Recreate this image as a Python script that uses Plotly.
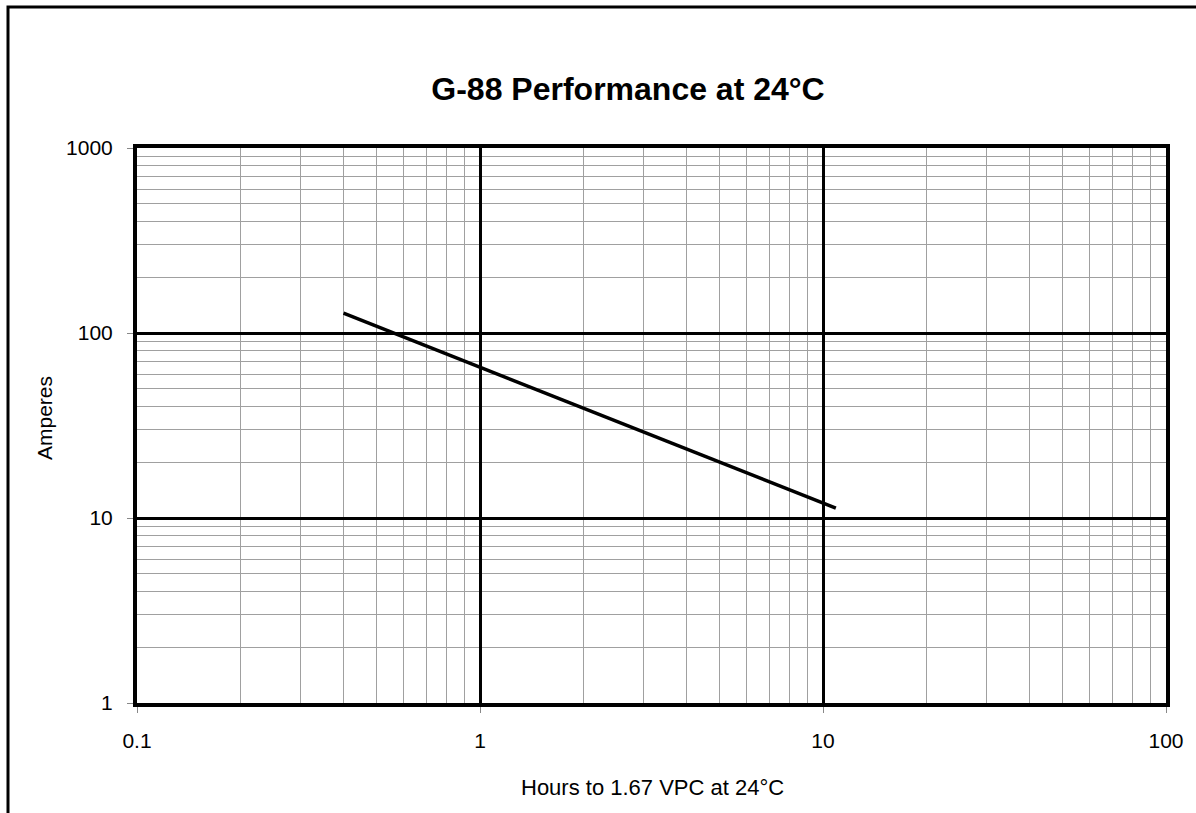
import plotly.graph_objects as go

hours = [0.4, 1, 3, 5, 10.9]
amperes = [128, 65.3, 29.2, 20.0, 11.3]

x_major = [0.1, 1, 10, 100]
x_major_labels = ["0.1", "1", "10", "100"]
y_major = [1, 10, 100, 1000]
y_major_labels = ["1", "10", "100", "1000"]
x_minor = [m * d for d in [0.1, 1, 10] for m in range(2, 10)]
y_minor = [m * d for d in [1, 10, 100] for m in range(2, 10)]

W, H = 1196, 813
L, R, T, B = 137, 30, 148, 110
pw, ph = W - L - R, H - T - B

fig = go.Figure()
fig.add_trace(go.Scatter(x=hours, y=amperes, mode="lines",
                         line=dict(color="black", width=3.5), showlegend=False))

font = "Liberation Sans, Arial, sans-serif"
common = dict(type="log", showline=True, mirror=True, linecolor="black", linewidth=4,
              showgrid=True, gridcolor="black", gridwidth=3, zeroline=False,
              ticks="outside", ticklen=6, tickcolor="#888", tickwidth=1,
              tickfont=dict(family=font, size=21, color="black"),
              tickmode="array")

fig.update_xaxes(**common, range=[-1, 2], tickvals=x_major, ticktext=x_major_labels,
                 ticklabelstandoff=10,
                 minor=dict(tickmode="array", tickvals=x_minor, showgrid=True,
                            gridcolor="#a0a0a0", gridwidth=1, ticks=""))
fig.update_yaxes(**common, range=[0, 3], tickvals=y_major, ticktext=y_major_labels,
                 ticklabelstandoff=10,
                 minor=dict(tickmode="array", tickvals=y_minor, showgrid=True,
                            gridcolor="#a0a0a0", gridwidth=1, ticks=""))

# axis titles
fig.add_annotation(text="Hours to 1.67 VPC at 24°C", xref="paper", yref="paper",
                   x=(652 - L) / pw, y=(H - B - 787) / ph, xanchor="center", yanchor="middle",
                   showarrow=False, font=dict(family=font, size=22, color="black"))
fig.add_annotation(text="Amperes", xref="paper", yref="paper", textangle=-90,
                   x=(44 - L) / pw, y=(H - B - 418) / ph, xanchor="center", yanchor="middle",
                   showarrow=False, font=dict(family=font, size=21, color="black"))

# outer frame
fig.add_shape(type="rect", xref="paper", yref="paper",
              x0=(8 - L) / pw, x1=(W + 20 - L) / pw,
              y0=(H - B - (H + 20)) / ph, y1=(H - B - 7) / ph,
              line=dict(color="black", width=3), fillcolor="rgba(0,0,0,0)")

fig.update_layout(
    width=W, height=H,
    margin=dict(l=L, r=R, t=T, b=B),
    paper_bgcolor="white", plot_bgcolor="white",
    title=dict(text="<b>G-88 Performance at 24°C</b>", x=628 / W, xanchor="center",
               y=1 - 89 / H, yanchor="middle",
               font=dict(family=font, size=32, color="black")),
)

fig.write_html("out.html", config={"displayModeBar": False},
               post_script="document.body.style.margin='0';")
